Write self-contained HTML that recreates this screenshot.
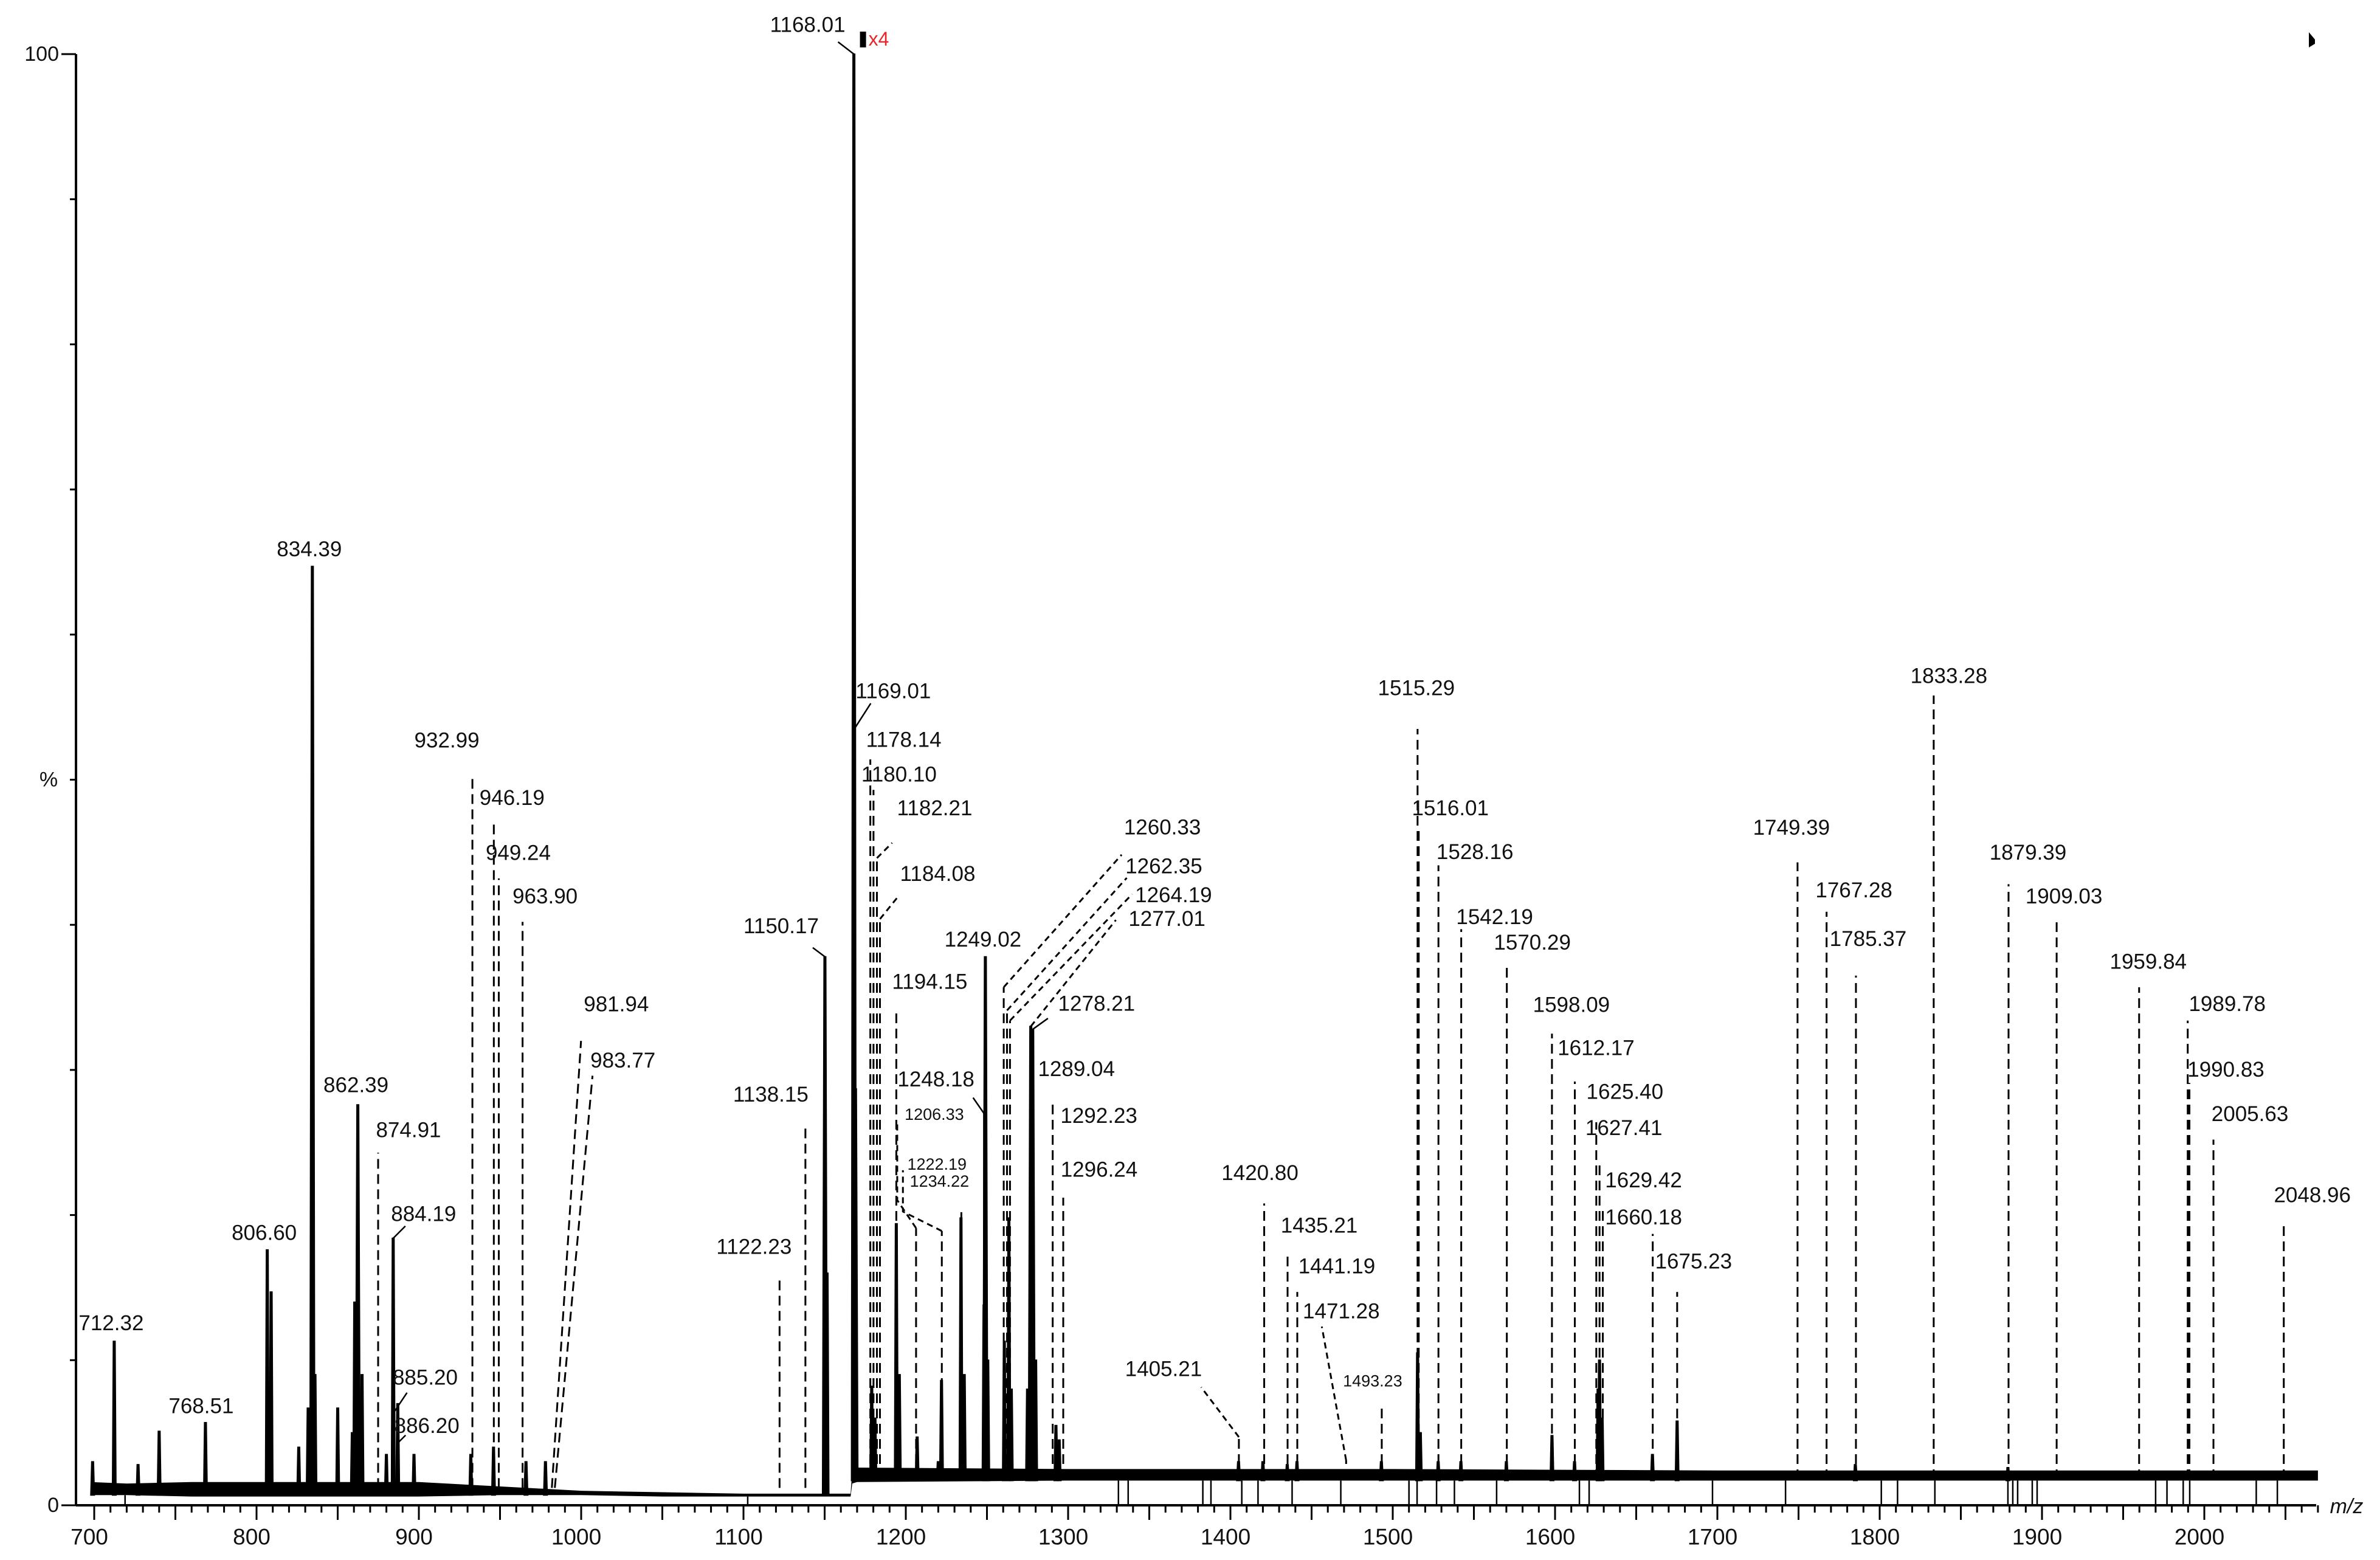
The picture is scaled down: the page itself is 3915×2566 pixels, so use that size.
<!DOCTYPE html>
<html><head><meta charset="utf-8"><title>Mass spectrum</title>
<style>
html,body{margin:0;padding:0;background:#fff;}
svg{display:block;font-family:"Liberation Sans","DejaVu Sans",sans-serif;}
</style></head>
<body>
<svg id="chart" xmlns="http://www.w3.org/2000/svg" width="3915" height="2566" viewBox="0 0 3915 2566">
<rect x="0" y="0" width="3915" height="2566" fill="#fff"/>
<g id="noise"></g>
<g id="peaks"></g>
<g id="annot"></g>
<g id="axes"></g>
</svg>
<script>
// ---------- data ----------
const xTicks = [700,800,900,1000,1100,1200,1300,1400,1500,1600,1700,1800,1900,2000];
const yTickLabels = ["0","%","100"];
// solid peaks: m/z and relative intensity (%)
const peakMz = [699,712.32,727,740,768.51,806.6,809,826,831.8,834.39,836,850,859,860.5,862.39,865,880,884.19,887,897,932,946,966,978,
  1150.17,1151.5,1168.01,1169.01,1179,1181,1194.15,1196,1207,1220,1222,1234,1236,1248.2,1249.02,1250.5,1260.7,1263.5,1265,1275,1277,1278.2,1280,1292.5,1294.5,
  1405,1420,1435,1441,1493,1515.3,1517,1528,1542,1570,1598.1,1612,1626.5,1627.4,1629,1660,1675.2,1785,1879];
const peakPct = [3,11.3,2.8,5.1,5.7,17.6,14.7,4,6.7,64.7,9,6.7,5,14,27.6,9,3.5,18.4,7,3.5,3.5,4,3,3,
  37.8,16,100,28.7,8.2,6,19.4,9,4.7,3,8.6,19.8,9,13.8,37.8,10,11.3,19.8,8,8,33,32.8,10,5.5,4.5,
  3,3,2.8,3,3,10.5,5,3,3,3,4.8,3,8,10,6,3.5,5.8,2.8,2.6];
// baseline noise band: m/z, upper %, lower %
const noiseMz  = [698,720,760,800,850,900,950,1000,1050,1100,1166,1167,1170,1300,1400,1500,1700,1900,2070];
const noiseTop = [1.6,1.5,1.6,1.6,1.6,1.6,1.3,1.0,0.9,0.8,0.8,2.4,2.6,2.5,2.5,2.5,2.4,2.4,2.4];
const noiseBot = [0.7,0.7,0.6,0.6,0.6,0.6,0.7,0.7,0.6,0.6,0.6,1.5,1.6,1.7,1.7,1.7,1.7,1.7,1.7];
// vertical drop lines from the spectrum to the axis
const dropMz = [719,1102.6,1331,1337,1383,1388,1407,1417,1438,1468,1510,1515,1527,1538,1564,1615,1621,1697,1742,1801,1811,1834,1879,1882,1885,1894,1897,1970,1977,1987,1991,2032,2045];
// annotations: text, m/z, top %, dashed, leader points [dx,dy] px from top, label offset px from last point, slant px, small
const annText = ["712.32","768.51","806.60","834.39","862.39","874.91","884.19","885.20","886.20","932.99","946.19","949.24","963.90","981.94","983.77",
 "1122.23","1138.15","1150.17","1168.01","1169.01","1178.14","1180.10","1182.21","1184.08","1194.15","1248.18","1206.33","1222.19","1234.22","1249.02",
 "1260.33","1262.35","1264.19","1277.01","1278.21","1289.04","1292.23","1296.24",
 "1405.21","1420.80","1435.21","1441.19","1471.28","1493.23","1515.29","1516.01","1528.16","1542.19","1570.29","1598.09","1612.17","1625.40","1627.41","1629.42","1660.18","1675.23",
 "1749.39","1767.28","1785.37","1833.28","1879.39","1909.03","1959.84","1989.78","1990.83","2005.63","2048.96"];
const annMz = [712.32,768.51,806.6,834.39,862.39,874.91,884.19,885.2,886.2,932.99,946.19,949.24,963.9,981.94,983.77,
 1122.23,1138.15,1150.17,1168.01,1168.3,1178.14,1180.1,1182.21,1184.08,1194.15,1248.18,1206.33,1222.19,1234.22,1249.02,
 1260.33,1262.35,1264.19,1277.01,1278.21,1289.04,1290.5,1297,
 1405.21,1420.8,1435.21,1441.19,1471.28,1493.23,1515.29,1516.01,1528.16,1542.19,1570.29,1598.09,1612.17,1625.4,1627.41,1629.42,1660.18,1675.23,
 1749.39,1767.28,1785.37,1833.28,1879.39,1909.03,1959.84,1989.78,1990.83,2005.63,2048.96];
const annTop = [11.3,5.7,17.6,64.7,27.6,24.3,18.4,6.5,4.2,50.4,47.2,43.2,40.2,32,29.6,
 15.7,26.2,37.8,100,53.5,51.4,49.3,44.6,40.4,34.1,27,19.1,18.9,20.2,37.8,
 35.7,34.1,33.4,33.0,32.8,28.3,27.8,21.2,
 4.7,20.8,17.3,14.7,3.1,6.8,53.5,46.7,44.1,39.7,37.3,32.5,29.2,26.4,23.6,20.5,18.7,14.7,
 44.3,40.9,36.5,55.8,42.8,40.2,35.7,33.4,29.1,25.2,19.4];
const annDash = [0,0,0,0,0,1,0,0,0,1,1,1,1,1,1,
 1,1,0,0,0,1,1,1,1,1,2,1,1,1,0,
 1,1,1,1,0,0,1,1,
 1,1,1,1,1,1,1,1,1,1,1,1,1,1,1,1,1,1,
 1,1,1,1,1,1,1,1,1,1,1];
const annLead = [[],[],[],[],[],[],[[20,-20]],[[20,-30]],[[15,-15]],[],[],[],[],[],[],
 [],[],[[-20,-15]],[[-26,-20]],[[27,-42]],[],[],[[25,-25]],[[30,-37]],[],[[-18,-26]],[[-31,-46],[-31,-175]],[[-64,-32],[-64,-100]],[],[],
 [[194,-218]],[[197,-218]],[[201,-208]],[[140,-175]],[[25,-18]],[],[],[],
 [[-62,-82]],[],[],[],[[-40,-220]],[],[],[],[],[],[],[],[],[],[],[],[],[],
 [],[],[],[],[],[],[],[],[],[],[]];
const annOff = [[-5,-30],[-7,-27],[-5,-28],[-5,-28],[-3,-32],[50,-37],[30,-20],[30,-25],[35,-15],[-42,-55],[30,-37],[32,-42],[37,-42],[58,-60],[50,-25],
 [-42,-50],[-57,-50],[-52,-35],[-50,-28],[37,-20],[55,-32],[42,-25],[70,-57],[65,-37],[55,-47],[-61,-30],[61,-12],[56,-10],[-36,-51],[-4,-28],
 [67,-45],[61,-19],[68,2],[84,-2],[80,-24],[43,-42],[76,23],[59,-46],
 [-62,-30],[-7,-50],[52,-47],[65,-42],[32,-25],[-15,-42],[-2,-67],[52,-32],[60,-22],[55,-20],[42,-35],[32,-47],[35,-55],[47,-50],[40,-57],[67,-45],[-15,-27],[27,-50],
 [-10,-57],[45,-35],[20,-60],[25,-32],[32,-52],[12,-42],[15,-42],[65,-27],[60,-22],[60,-42],[47,-47]];
const annSlant = {"981.94":48,"983.77":62};
const annSmall = {"1206.33":1,"1222.19":1,"1234.22":1,"1493.23":1};

// ---------- axis functions ----------
const X0=155, XS=2.67, Y0=2476, YS=23.87, AXL=125, AXR=3810;
const xS = m => X0 + (m-700)*XS;
const yS = p => Y0 - p*YS;
const NS='http://www.w3.org/2000/svg';
function mk(tag, attrs, parent){const e=document.createElementNS(NS,tag);for(const k in attrs)e.setAttribute(k,attrs[k]);parent.appendChild(e);return e;}

// ---------- noise band ----------
const gN=document.getElementById('noise');
let d='M'+xS(noiseMz[0])+','+yS(noiseTop[0]);
for(let i=1;i<noiseMz.length;i++) d+=' L'+xS(noiseMz[i])+','+yS(noiseTop[i]);
for(let i=noiseMz.length-1;i>=0;i--) d+=' L'+xS(noiseMz[i])+','+yS(noiseBot[i]);
const band=mk('path',{d:d+'Z',fill:'#000'},gN);


dropMz.forEach(m=>{
  const bi=noiseMz.findIndex(v=>v>=m);
  const l=mk('line',{x1:xS(m),x2:xS(m),y1:yS(noiseBot[Math.max(0,bi)]),y2:Y0,stroke:'#000','stroke-width':2.5},gN);
  
  
});

// ---------- peaks ----------
const gP=document.getElementById('peaks');
peakMz.forEach((m,i)=>{
  const x=xS(m), t=yS(peakPct[i]), w=peakPct[i]>20?4:3;
  const base = m<1166.5 ? yS(0.7) : yS(1.7);
  const p=mk('path',{d:`M${x-w},${base} L${x-1.5},${t} L${x+1.5},${t} L${x+w},${base}Z`,fill:'#000',stroke:'#000','stroke-width':2},gP);
  
  
});

// ---------- annotations ----------
const gA=document.getElementById('annot');
annText.forEach((txt,i)=>{
  const m=annMz[i], x=xS(m), top=yS(annTop[i]);
  const dashed=annDash[i]===1, solidLine=annDash[i]===2;
  const slant=annSlant[txt]||0;
  const tx=x+slant;
  const bottom = m<1166.5 ? yS(1.2) : yS(1.8);
  if(dashed||solidLine){
    const l=mk('line',{x1:x,y1:bottom,x2:tx,y2:top,stroke:'#000','stroke-width':3},gA);
    if(dashed) l.setAttribute('stroke-dasharray','16 9');
    
    
  }
  let px=tx, py=top;
  const lead=annLead[i];
  if(lead.length){
    let pd='M'+tx+','+top;
    lead.forEach(p=>{pd+=' L'+(tx+p[0])+','+(top+p[1]);});
    const lp=mk('path',{d:pd,fill:'none',stroke:'#000','stroke-width':dashed?3:2.5},gA);
    if(dashed) lp.setAttribute('stroke-dasharray','10 7');
    
    
    const last=lead[lead.length-1]; px=tx+last[0]; py=top+last[1];
  }
  const o=annOff[i];
  const te=mk('text',{x:px+o[0],y:py+o[1],'text-anchor':'middle','dominant-baseline':'central','font-size':annSmall[txt]?27:35,fill:'#111'},gA);
  te.textContent=txt;
  
  
});

// ---------- axes ----------
const gX=document.getElementById('axes');
const ya=mk('line',{x1:AXL,y1:yS(100),x2:AXL,y2:Y0+1,stroke:'#000','stroke-width':4},gX);


const xa=mk('line',{x1:AXL,y1:Y0,x2:AXR,y2:Y0,stroke:'#000','stroke-width':4},gX);


for(let v=0;v<=100;v+=10){
  const len=(v===0||v===100)?24:10;
  const t=mk('line',{x1:AXL-len,x2:AXL,y1:yS(v),y2:yS(v),stroke:'#000','stroke-width':3},gX);
  
  
}
[[yTickLabels[0],0],[yTickLabels[1],50],[yTickLabels[2],100]].forEach(([s,v])=>{
  const t=mk('text',{x:v===50?80:(AXL-28),y:yS(v),'text-anchor':v===50?'middle':'end','dominant-baseline':'central','font-size':34,fill:'#111'},gX);
  t.textContent=s;
  
  
});
for(let m=700;m<=2070;m+=10){
  const len=(m%50===0)?24:12;
  const t=mk('line',{x1:xS(m),x2:xS(m),y1:Y0,y2:Y0+len,stroke:'#000','stroke-width':3},gX);
  
  
}
xTicks.forEach(m=>{
  const t=mk('text',{x:xS(m)-8,y:2528,'text-anchor':'middle','dominant-baseline':'central','font-size':37,fill:'#111'},gX);
  t.textContent=String(m);
  
  
});
const xt=mk('text',{x:3860,y:2478,'text-anchor':'middle','dominant-baseline':'central','font-size':34,'font-style':'italic',fill:'#111'},gX);
xt.textContent='m/z';


// x4 magnification marker
const mr=mk('rect',{x:xS(1168.01)+10,y:52,width:10,height:26,fill:'#000'},gX);


const mt=mk('text',{x:xS(1168.01)+24,y:64,'dominant-baseline':'central','font-size':32,fill:'#e8262a'},gX);
mt.textContent='x4';


const tri=mk('path',{d:'M3798,53 L3808,65 L3808,72 L3798,78Z',fill:'#000'},gX);


</script>
</body></html>
